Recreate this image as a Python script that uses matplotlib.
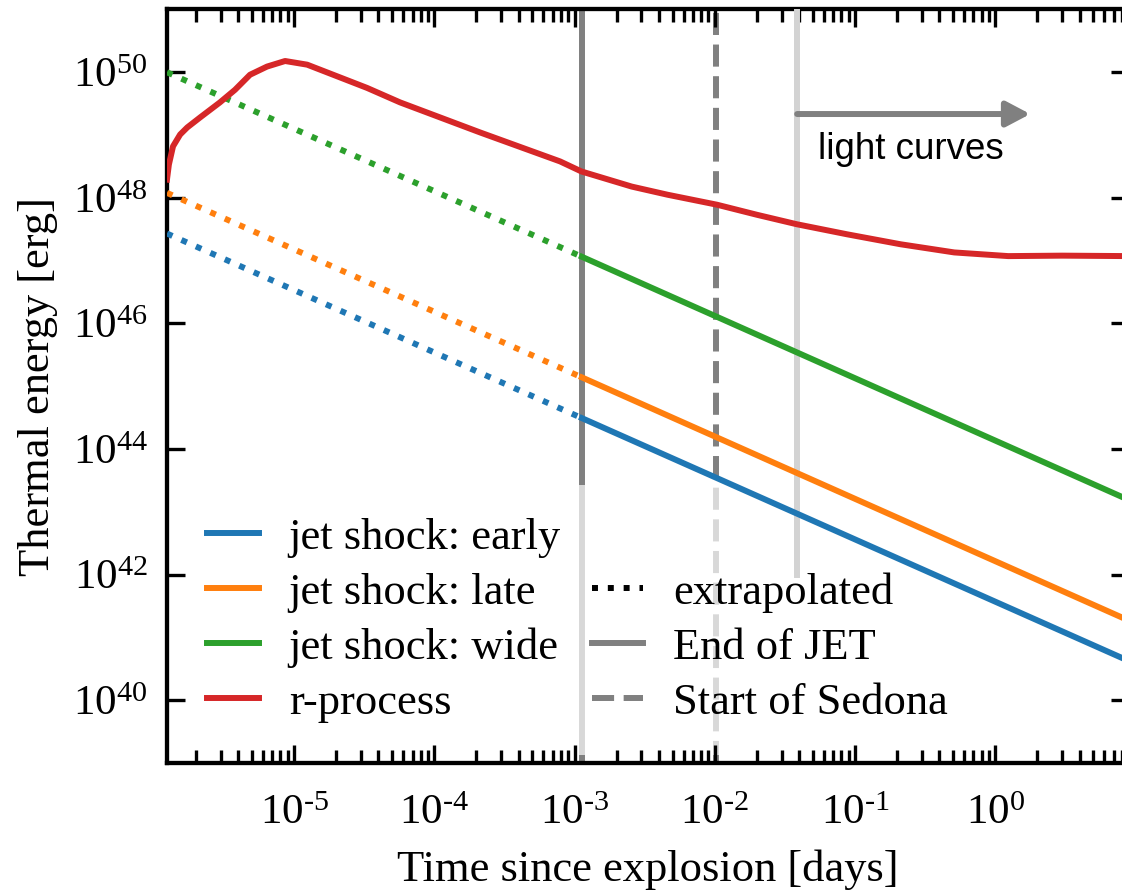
import math
import matplotlib
matplotlib.use("Agg")
import matplotlib.pyplot as plt
from matplotlib.lines import Line2D
from matplotlib.ticker import FixedLocator, LogLocator, NullLocator, FuncFormatter

plt.rcParams.update({
    "font.family": "Liberation Serif",
    "mathtext.fontset": "custom",
    "mathtext.rm": "Liberation Serif",
    "mathtext.it": "Liberation Serif",
    "mathtext.bf": "Liberation Serif:bold",
})

# jet shock energies: extrapolated part and simulated part [days, erg]
t_ext = [1.24e-6, 1.13e-3]
t_sim = [1.13e-3, 9.0]
E_early_ext = [2.7e47, 3.1e44]
E_early = [3.1e44, 4.2e40]
E_late_ext = [1.2e48, 1.38e45]
E_late = [1.38e45, 1.85e41]
E_wide_ext = [1.0e50, 1.15e47]
E_wide = [1.15e47, 1.54e43]

# r-process heating
t_r = [1.24e-6, 1.28e-6, 1.37e-6, 1.54e-6, 1.73e-6, 2.14e-6, 2.96e-6, 3.79e-6,
       4.85e-6, 6.41e-6, 8.63e-6, 1.24e-5, 1.90e-5, 3.32e-5, 5.70e-5, 2.12e-4,
       7.89e-4, 1.12e-3, 2.56e-3, 4.61e-3, 1.04e-2, 2.00e-2, 3.84e-2, 8.75e-2,
       0.212, 0.511, 1.24, 3.01, 9.0]
E_r = [1.95e48, 3.39e48, 6.61e48, 1.02e49, 1.32e49, 1.91e49, 3.31e49, 5.25e49,
       9.12e49, 1.23e50, 1.51e50, 1.32e50, 9.12e49, 5.62e49, 3.31e49, 1.10e49,
       3.80e48, 2.63e48, 1.51e48, 1.12e48, 7.76e47, 5.37e47, 3.80e47, 2.63e47,
       1.82e47, 1.35e47, 1.18e47, 1.20e47, 1.18e47]

t_end_jet = 1.13e-3
t_sedona = 1.02e-2
t_lightcurve = 3.87e-2
t_arrow_end = 1.78
E_arrow = 2.16e49

x_ticks = [1e-5, 1e-4, 1e-3, 1e-2, 1e-1, 1e0]
y_ticks = [1e40, 1e42, 1e44, 1e46, 1e48, 1e50]

colors = ["#1f77b4", "#ff7f0e", "#2ca02c", "#d62728"]
lw = 4.3

fig = plt.figure(figsize=(11.22, 8.91), dpi=100)
ax = fig.add_axes([0.1488, 0.1437, 0.8574, 0.8457])
ax.set_axisbelow(False)

ax.axvline(t_end_jet, color="gray", lw=lw, zorder=1.5)
ax.axvline(t_sedona, color="gray", lw=lw, ls="--", zorder=1.5)
ax.axvline(t_lightcurve, ymin=0.25, color="lightgray", lw=lw, zorder=3)

handles = []
for c, e_ext, e_sim in [(colors[0], E_early_ext, E_early),
                        (colors[1], E_late_ext, E_late),
                        (colors[2], E_wide_ext, E_wide)]:
    ax.plot(t_ext, e_ext, color=c, lw=lw, ls=":", zorder=3)
    h, = ax.plot(t_sim, e_sim, color=c, lw=lw, zorder=3)
    handles.append(h)
h, = ax.plot(t_r, E_r, color=colors[3], lw=lw, zorder=3.2)
handles.append(h)

ax.annotate("", xy=(t_arrow_end, E_arrow), xytext=(t_lightcurve, E_arrow),
            arrowprops=dict(arrowstyle="-|>,head_length=0.72,head_width=0.38",
                            color="gray", lw=lw, shrinkA=0, shrinkB=0,
                            mutation_scale=20), zorder=3)
ax.text(5.47e-2, 5.9e48, "light curves", family="Liberation Sans", size=26.5,
        ha="left", va="center")

ax.set_xscale("log")
ax.set_yscale("log")
ax.set_xlim(1.24e-6, 9.0)
ax.set_ylim(1e39, 1e51)


def fmt(v, pos):
    e = int(round(math.log10(v)))
    s = str(e).replace("-", "\u2010")
    return r"$10^{%s}$" % s


ax.xaxis.set_major_locator(FixedLocator(x_ticks))
ax.xaxis.set_minor_locator(LogLocator(base=10, subs=range(2, 10), numticks=20))
ax.yaxis.set_major_locator(FixedLocator(y_ticks))
ax.yaxis.set_minor_locator(NullLocator())
ax.xaxis.set_major_formatter(FuncFormatter(fmt))
ax.yaxis.set_major_formatter(FuncFormatter(fmt))
ax.xaxis.set_minor_formatter(FuncFormatter(lambda v, p: ""))

ax.tick_params(which="both", direction="in", top=True, right=True, width=2.4,
               labelsize=31)
ax.tick_params(axis="x", pad=23)
ax.tick_params(axis="y", pad=14)
ax.tick_params(which="major", length=13)
ax.tick_params(which="minor", length=9.4)
for s in ax.spines.values():
    s.set_linewidth(3.1)

ax.set_xlabel("Time since explosion [days]", fontsize=32)
ax.set_ylabel("Thermal energy [erg]", fontsize=32)
ax.xaxis.set_label_coords(0.5, -0.115)
ax.yaxis.set_label_coords(-0.113, 0.5)

blank = Line2D([], [], ls="none")
ext = Line2D([], [], color="k", ls=":", lw=lw)
endjet = Line2D([], [], color="gray", lw=lw)
sedona = Line2D([], [], color="gray", ls="--", lw=lw)
labels = ["jet shock: early", "jet shock: late", "jet shock: wide", "r-process",
          " ", "extrapolated", "End of JET", "Start of Sedona"]
leg = ax.legend(handles + [blank, ext, endjet, sedona], labels, loc="lower left",
                ncol=2, fontsize=32, frameon=True, framealpha=0.7,
                edgecolor="none", fancybox=False, handlelength=1.15,
                handletextpad=0.68, columnspacing=0.69, labelspacing=0.33,
                borderpad=0.73, borderaxespad=0.18)
leg.set_zorder(2)

fig.savefig("out.png", dpi=100)
